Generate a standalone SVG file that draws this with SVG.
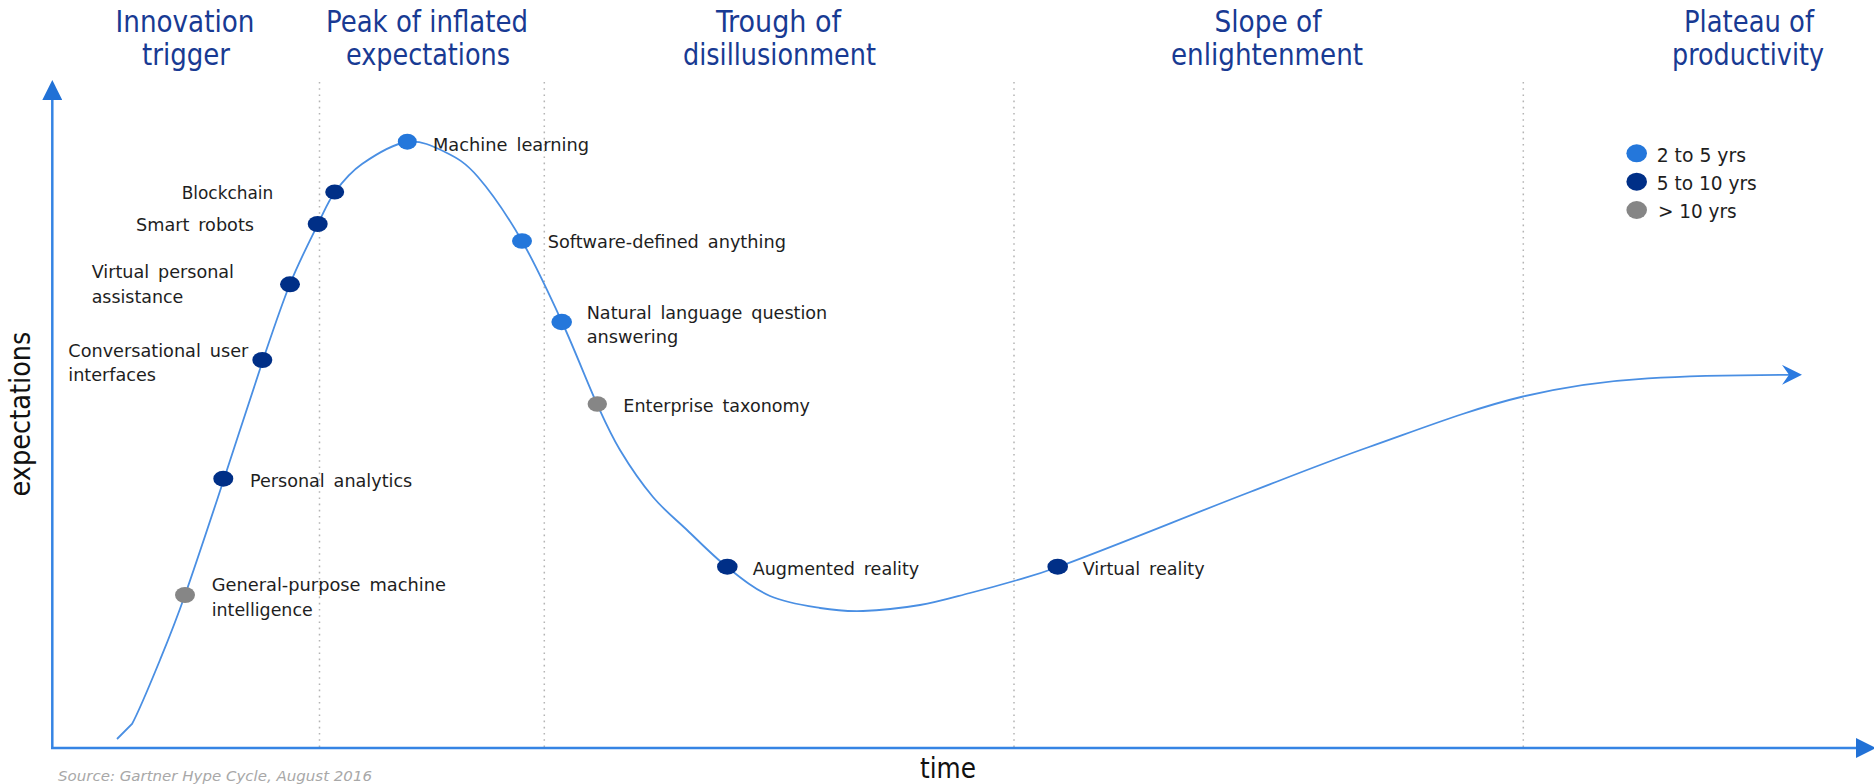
<svg xmlns="http://www.w3.org/2000/svg" width="1874" height="784" viewBox="0 0 1874 784">
  <style>
    text { font-family: 'DejaVu Sans Condensed', 'DejaVu Sans', sans-serif; }
    .phase { font-size: 30px; fill: #183a93; text-anchor: middle; }
    .lbl { font-size: 18px; fill: #1e1e1e; word-spacing: 3px; }
    .leg { font-size: 20px; fill: #1e1e1e; }
    .axis-title { font-size: 29px; fill: #111111; text-anchor: middle; }
    .source { font-size: 14px; font-style: italic; fill: #a8a8a8; }
    .d25 { fill: #2477db; }
    .d510 { fill: #002f87; }
    .d10 { fill: #868686; }
    .divider { stroke: #b4b4b4; stroke-width: 1.5; stroke-dasharray: 1.6 4.6; fill: none; }
    .axis { stroke: #3584e4; stroke-width: 2.5; fill: none; }
    .hype { stroke: #4a8fe3; stroke-width: 1.8; fill: none; }
  </style>
  <defs>
    <marker id="axis-head" viewBox="0 -10 20 20" refX="0" refY="0" markerWidth="20" markerHeight="20" markerUnits="userSpaceOnUse" orient="auto">
      <path d="M0,-10 L20,0 L0,10 z" fill="#2171d6"/>
    </marker>
    <marker id="curve-head" viewBox="-7 -10 20 20" refX="0" refY="0" markerWidth="20" markerHeight="20" markerUnits="userSpaceOnUse" orient="auto">
      <path d="M-7,-10 L13,0 L-7,10 L0,0 z" fill="#2b7ae0"/>
    </marker>
  </defs>

  <rect x="0" y="0" width="1874" height="784" fill="#ffffff"/>

  <!-- phase headings -->
  <g id="phase-innovation-trigger">
    <text class="phase" x="185" y="32" textLength="139" lengthAdjust="spacingAndGlyphs">Innovation</text>
    <text class="phase" x="186" y="65" textLength="88" lengthAdjust="spacingAndGlyphs">trigger</text>
  </g>
  <g id="phase-peak">
    <text class="phase" x="427" y="32" textLength="202" lengthAdjust="spacingAndGlyphs">Peak of inflated</text>
    <text class="phase" x="428" y="65" textLength="164" lengthAdjust="spacingAndGlyphs">expectations</text>
  </g>
  <g id="phase-trough">
    <text class="phase" x="778.5" y="32" textLength="125" lengthAdjust="spacingAndGlyphs">Trough of</text>
    <text class="phase" x="779.5" y="65" textLength="193" lengthAdjust="spacingAndGlyphs">disillusionment</text>
  </g>
  <g id="phase-slope">
    <text class="phase" x="1268" y="32" textLength="107" lengthAdjust="spacingAndGlyphs">Slope of</text>
    <text class="phase" x="1267" y="65" textLength="192" lengthAdjust="spacingAndGlyphs">enlightenment</text>
  </g>
  <g id="phase-plateau">
    <text class="phase" x="1749" y="32" textLength="130" lengthAdjust="spacingAndGlyphs">Plateau of</text>
    <text class="phase" x="1748" y="65" textLength="152" lengthAdjust="spacingAndGlyphs">productivity</text>
  </g>

  <!-- phase dividers -->
  <g id="dividers">
    <line class="divider" x1="319.5" y1="82" x2="319.5" y2="747"/>
    <line class="divider" x1="544.3" y1="82" x2="544.3" y2="747"/>
    <line class="divider" x1="1014" y1="82" x2="1014" y2="747"/>
    <line class="divider" x1="1523.3" y1="82" x2="1523.3" y2="747"/>
  </g>

  <!-- axes -->
  <g id="axes">
    <line class="axis" x1="52.3" y1="749" x2="52.3" y2="100" marker-end="url(#axis-head)"/>
    <line class="axis" x1="51" y1="748" x2="1856" y2="748" marker-end="url(#axis-head)"/>
    <text class="axis-title" transform="translate(30,414) rotate(-90)" textLength="165" lengthAdjust="spacingAndGlyphs">expectations</text>
    <text class="axis-title" x="948" y="778" textLength="56" lengthAdjust="spacingAndGlyphs">time</text>
  </g>

  <!-- hype curve -->
  <g id="connectors">
    <path class="hype" marker-end="url(#curve-head)" d="M117,739 L132,724
      C139.2,710.8 151.2,681.5 160,660
      C168.8,638.5 174.3,625.2 185,595
      C195.7,564.8 211,518.2 224,479
      C237,439.8 252,392.5 263,360
      C274,327.5 280.8,306.7 290,284
      C299.2,261.3 310.5,239.3 318,224
      C325.5,208.7 327.7,202 335,192
      C342.3,182 350,172.3 362,164
      C374,155.7 393.2,144 407,142
      C420.8,140 433.2,146.2 445,152
      C456.8,157.8 465.2,162.2 478,177
      C490.8,191.8 508,216.8 522,241
      C536,265.2 549.5,294.8 562,322
      C574.5,349.2 587.3,382.7 597,404
      C606.7,425.3 610.7,434.5 620,450
      C629.3,465.5 641.8,483.7 653,497
      C664.2,510.3 674.7,518.3 687,530
      C699.3,541.7 713.2,556 727,567
      C740.8,578 754.5,589.2 770,596
      C785.5,602.8 804.5,605.5 820,608
      C835.5,610.5 846.3,611.5 863,611
      C879.7,610.5 902.2,608 920,605
      C937.8,602 954.3,597 970,593
      C985.7,589 999.3,585.3 1014,581
      C1028.7,576.7 1037,574.8 1058,567
      C1122,543.3 1186,516.6 1250,492
      C1289.7,476.7 1329.3,460.9 1369,447
      C1420.3,429 1471.7,408.8 1523,396.5
      C1564.7,386.5 1606.3,380.8 1648,378.3
      C1695,375.5 1742,375 1789,374.8"/>
  </g>

  <!-- technologies on the curve -->
  <g id="node-general-purpose-machine-intelligence">
    <ellipse class="d10" cx="185" cy="595" rx="10" ry="8"/>
    <text class="lbl" x="211.7" y="590.7" textLength="234.3" lengthAdjust="spacingAndGlyphs">General-purpose machine</text>
    <text class="lbl" x="211.7" y="615.7" textLength="101" lengthAdjust="spacingAndGlyphs">intelligence</text>
  </g>
  <g id="node-personal-analytics">
    <ellipse class="d510" cx="223.3" cy="478.7" rx="10" ry="8"/>
    <text class="lbl" x="250" y="486.7" textLength="162.3" lengthAdjust="spacingAndGlyphs">Personal analytics</text>
  </g>
  <g id="node-conversational-user-interfaces">
    <ellipse class="d510" cx="262.3" cy="360" rx="10" ry="8"/>
    <text class="lbl" x="68.3" y="356.7" textLength="180" lengthAdjust="spacingAndGlyphs">Conversational user</text>
    <text class="lbl" x="68.3" y="380.7" textLength="87.7" lengthAdjust="spacingAndGlyphs">interfaces</text>
  </g>
  <g id="node-virtual-personal-assistance">
    <ellipse class="d510" cx="290" cy="284.3" rx="10" ry="8"/>
    <text class="lbl" x="91.7" y="278.3" textLength="142.3" lengthAdjust="spacingAndGlyphs">Virtual personal</text>
    <text class="lbl" x="91.7" y="303.3" textLength="91.6" lengthAdjust="spacingAndGlyphs">assistance</text>
  </g>
  <g id="node-smart-robots">
    <ellipse class="d510" cx="317.7" cy="224" rx="10" ry="8"/>
    <text class="lbl" x="136" y="231" textLength="118" lengthAdjust="spacingAndGlyphs">Smart robots</text>
  </g>
  <g id="node-blockchain">
    <ellipse class="d510" cx="334.7" cy="192" rx="9.5" ry="7.5"/>
    <text class="lbl" x="181.7" y="199.3" textLength="91.6" lengthAdjust="spacingAndGlyphs">Blockchain</text>
  </g>
  <g id="node-machine-learning">
    <ellipse class="d25" cx="407.3" cy="141.7" rx="9.5" ry="8"/>
    <text class="lbl" x="433" y="150.7" textLength="156" lengthAdjust="spacingAndGlyphs">Machine learning</text>
  </g>
  <g id="node-software-defined-anything">
    <ellipse class="d25" cx="522" cy="241" rx="10" ry="7.8"/>
    <text class="lbl" x="547.7" y="248.3" textLength="238.3" lengthAdjust="spacingAndGlyphs">Software-defined anything</text>
  </g>
  <g id="node-natural-language-question-answering">
    <ellipse class="d25" cx="561.7" cy="322" rx="10.3" ry="8.3"/>
    <text class="lbl" x="586.7" y="319" textLength="240.6" lengthAdjust="spacingAndGlyphs">Natural language question</text>
    <text class="lbl" x="586.7" y="343.3" textLength="91.6" lengthAdjust="spacingAndGlyphs">answering</text>
  </g>
  <g id="node-enterprise-taxonomy">
    <ellipse class="d10" cx="597.3" cy="404" rx="9.7" ry="7.8"/>
    <text class="lbl" x="623.3" y="411.7" textLength="186.7" lengthAdjust="spacingAndGlyphs">Enterprise taxonomy</text>
  </g>
  <g id="node-augmented-reality">
    <ellipse class="d510" cx="727.3" cy="566.7" rx="10.3" ry="8"/>
    <text class="lbl" x="752.7" y="575" textLength="166.6" lengthAdjust="spacingAndGlyphs">Augmented reality</text>
  </g>
  <g id="node-virtual-reality">
    <ellipse class="d510" cx="1057.7" cy="566.7" rx="10.3" ry="8"/>
    <text class="lbl" x="1082.7" y="575" textLength="122" lengthAdjust="spacingAndGlyphs">Virtual reality</text>
  </g>

  <!-- legend -->
  <g id="legend">
    <ellipse class="d25" cx="1636.7" cy="153.3" rx="10.3" ry="9"/>
    <text class="leg" x="1656.7" y="161.7" textLength="89.3" lengthAdjust="spacingAndGlyphs">2 to 5 yrs</text>
    <ellipse class="d510" cx="1636.7" cy="181.7" rx="10.3" ry="9"/>
    <text class="leg" x="1656.7" y="190" textLength="100" lengthAdjust="spacingAndGlyphs">5 to 10 yrs</text>
    <ellipse class="d10" cx="1636.7" cy="210" rx="10.3" ry="9"/>
    <text class="leg" x="1658" y="218.3" textLength="78.7" lengthAdjust="spacingAndGlyphs">&gt; 10 yrs</text>
  </g>

  <!-- source note along the bottom edge -->
  <text class="source" x="58" y="780.5" textLength="314" lengthAdjust="spacingAndGlyphs">Source: Gartner Hype Cycle, August 2016</text>
</svg>
